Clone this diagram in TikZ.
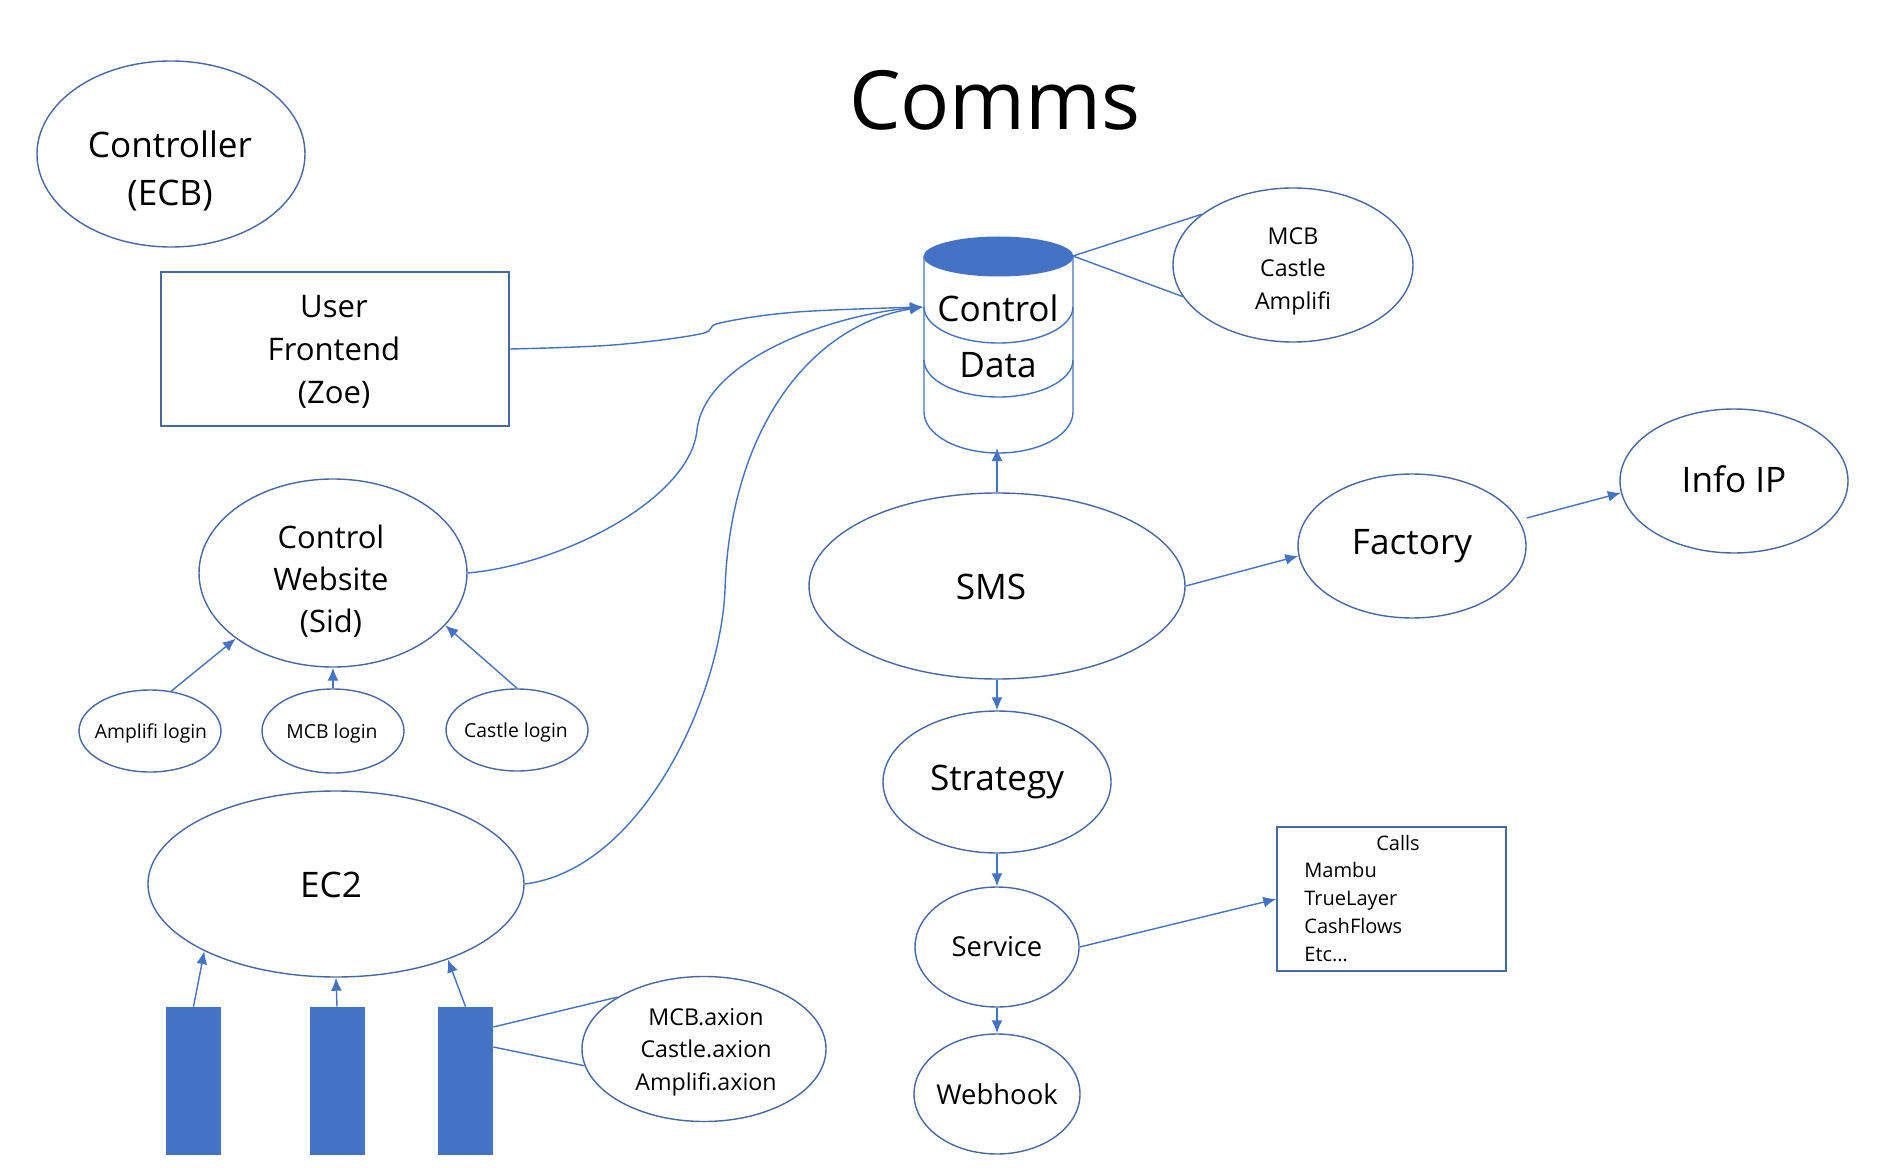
\documentclass[tikz,border=0pt]{standalone}
\usepackage{fontspec}
\setmainfont{Open Sans}
\usetikzlibrary{arrows.meta,shapes.geometric,positioning}
\definecolor{commsblue}{RGB}{68,114,196}
\definecolor{edgeblue}{RGB}{72,104,165}
\tikzset{
  oval/.style args={#1/#2}{ellipse,draw=edgeblue,line width=0.8pt,inner sep=-8pt,align=center,
    minimum width=#1*0.2mm,minimum height=#2*0.2mm},
  boxed/.style args={#1/#2}{rectangle,draw=edgeblue,line width=0.8pt,inner sep=0pt,align=center,
    minimum width=#1*0.2mm,minimum height=#2*0.2mm},
  bar/.style={rectangle,fill=commsblue,draw=none,inner sep=0pt,minimum width=11mm,minimum height=29.6mm},
  link/.style={commsblue,line width=0.8pt,-{Latex[length=2.6mm,width=2.2mm]}},
  plainlink/.style={commsblue,line width=0.8pt},
  big/.style={align=center,font=\fontsize{20}{24}\selectfont},
  mid/.style={align=center,font=\fontsize{15.6}{19}\selectfont},
  small/.style={align=center,font=\fontsize{13.2}{18.5}\selectfont},
  tiny/.style={font=\fontsize{11}{14}\selectfont},
  listed/.style={anchor=base west,inner sep=0pt,font=\fontsize{11.4}{14}\selectfont},
}
\begin{document}
\begin{tikzpicture}[x=0.2mm,y=-0.2mm,>=Latex]
\useasboundingbox (0,0) rectangle (1899,1168);
\node[font=\fontsize{46.5}{50}\selectfont] (title) at (995,100) {Comms};
\node[oval=268/186] (controller) at (171,154) {};
\node[big,font=\fontsize{20}{27}\selectfont] (controllertext) at (170,171) {Controller\\(ECB)};
\node[boxed=348/154] (frontend) at (335,349) {};
\node[big,font=\fontsize{17.7}{24.5}\selectfont] (frontendtext) at (334,352) {User\\Frontend\\(Zoe)};
% database
\draw[commsblue,line width=0.8pt] (924,256) -- (924,412) arc[start angle=180,end angle=360,x radius=74.5,y radius=-41] -- (1073,256);
\draw[commsblue,line width=0.8pt] (924,307) arc[start angle=180,end angle=360,x radius=74.5,y radius=-36];
\draw[commsblue,line width=0.8pt] (924,360) arc[start angle=180,end angle=360,x radius=74.5,y radius=-37];
\fill[commsblue] (998.5,256.5) ellipse[x radius=75,y radius=20];
\node[big,fill=white,inner sep=1pt] (control) at (998,308) {Control};
\node[big] (data) at (998,365) {Data};
\coordinate (dbtop) at (1073,256);
\coordinate (dbleft) at (923,307);
\coordinate (dbbottom) at (997,448);
\node[oval=240/154] (brands) at (1293,265) {};
\node[small] (brandstext) at (1293,271) {MCB\\Castle\\Amplifi};
\draw[plainlink] (dbtop) -- (brands.151);
\draw[plainlink] (dbtop) -- (brands.196);
\node[oval=268/188] (website) at (333,573) {};
\node[big,font=\fontsize{17.6}{24}\selectfont] (websitetext) at (331,581) {Control\\Website\\(Sid)};
\node[oval=142/82,tiny] (amplogin) at (150,731) {};
\node[tiny] (amplogintext) at (151,733) {Amplifi login};
\node[oval=142/84,tiny] (mcblogin) at (333,731) {};
\node[tiny] (mcblogintext) at (332,733) {MCB login};
\node[oval=142/82,tiny] (caslogin) at (517,730) {};
\node[tiny] (caslogintext) at (516,732) {Castle login};
\draw[link] (amplogin.62) -- (website.214);
\draw[link] (mcblogin.north) -- (website.south);
\draw[link] (caslogin.north) -- (website.335);
\node[oval=376/186] (ectwo) at (336,884) {};
\node[big] (ectwotext) at (331,885) {EC2};
\node[bar] (barone) at (193.5,1081) {};
\node[bar] (bartwo) at (337,1081) {};
\node[bar] (barthree) at (465.5,1081) {};
\draw[link] (barone.north) -- (ectwo.207);
\draw[link] (bartwo.north) -- (ectwo.south);
\draw[link] (barthree.north) -- (ectwo.326);
\node[oval=244/145] (axions) at (704,1049) {};
\node[small] (axionstext) at (706,1052) {MCB.axion\\Castle.axion\\Amplifi.axion};
\draw[plainlink] (barthree.east |- 0,1027) -- (axions.149);
\draw[plainlink] (barthree.east |- 0,1047) -- (axions.188);
% centre column
\node[oval=376/186] (sms) at (997,586) {};
\node[big] (smstext) at (991,587) {SMS};
\node[oval=228/144,big] (factory) at (1412,546) {Factory};
\node[oval=228/144,big] (infoip) at (1734,481) {\raisebox{2pt}{Info IP}};
\node[oval=228/142,big] (strategy) at (997,782) {\raisebox{-3pt}{Strategy}};
\node[oval=164/120,mid] (service) at (997,947) {Service};
\node[oval=166/120,mid] (webhook) at (997,1094) {Webhook};
\node[boxed=229/144] (calls) at (1391.5,899) {};
\node[font=\fontsize{11.4}{14}\selectfont] (callshead) at (1398,843) {Calls};
\node[listed] (mambu) at (1304,877) {Mambu};
\node[listed] (truelayer) at (1304,905) {TrueLayer};
\node[listed] (cashflows) at (1304,933) {CashFlows};
\node[listed] (etc) at (1304,961) {Etc\dots};
\draw[link] (sms.north) -- (dbbottom);
\draw[link] (sms.east) -- (factory.185);
\draw[link] (factory.east |- 0,518) -- (infoip.186);
\draw[link] (sms.south) -- (strategy.north);
\draw[link] (strategy.south) -- (service.north);
\draw[link] (service.south) -- (webhook.north);
\draw[link] (service.east) -- (calls.west);
% curved links
\draw[link] plot[smooth,tension=0.6] coordinates {(frontend.east) (613,345) (700,334) (720,323) (797,312) (dbleft)};
\draw[link] (website.east) .. controls (560,565) and (690,500) .. (697,430) .. controls (705,360) and (830,315) .. (dbleft);
\draw[link] (ectwo.east) .. controls (640,870) and (720,700) .. (725,590) .. controls (730,430) and (810,325) .. (dbleft);
\end{tikzpicture}
\end{document}
